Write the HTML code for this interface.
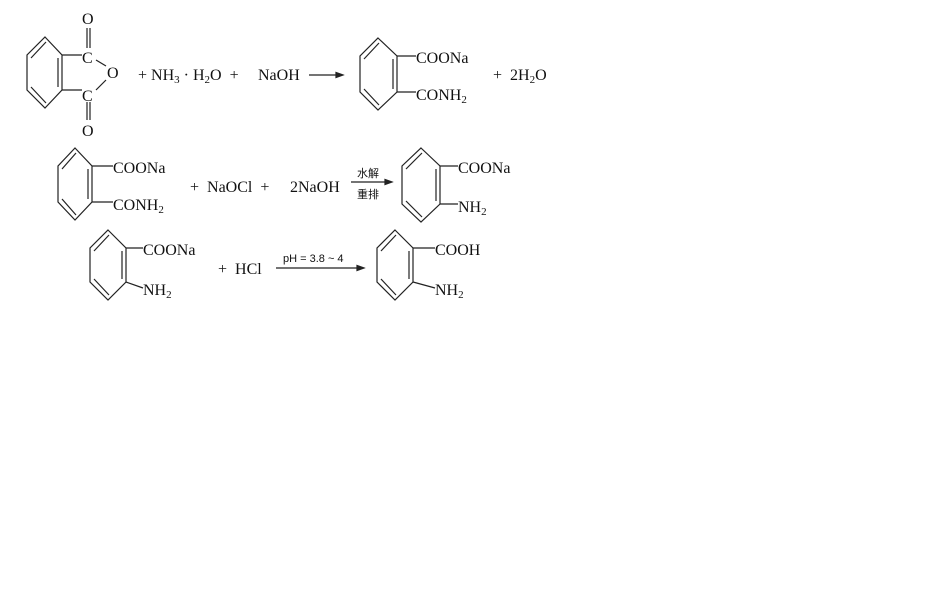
<!DOCTYPE html>
<html><head><meta charset="utf-8"><style>
html,body{margin:0;padding:0;background:#fff;width:950px;height:600px;overflow:hidden}
svg{display:block}
text{font-family:"Liberation Serif","Noto Serif CJK SC",serif;font-size:16px;fill:#111;white-space:pre}
.s{font-size:11px}
.c{font-family:"Liberation Sans","Noto Sans CJK SC",sans-serif;font-size:11px}
line,polyline,polygon{stroke:#222;stroke-width:1.2;fill:none}
</style></head><body>
<svg width="950" height="600" viewBox="0 0 950 600" xmlns="http://www.w3.org/2000/svg" xml:space="preserve">
<!-- Row 1: anhydride -->
<polygon points="45,37 62,55 62,90 45,108 27,90 27,55"/>
<line x1="31" y1="58" x2="46" y2="42"/><line x1="58" y1="58" x2="58" y2="87"/><line x1="31" y1="87" x2="46" y2="103"/>
<line x1="62" y1="55" x2="82" y2="55"/><line x1="62" y1="90" x2="82" y2="90"/>
<text x="82" y="63">C</text><text x="82" y="101">C</text>
<line x1="87" y1="28" x2="87" y2="48"/><line x1="90" y1="28" x2="90" y2="48"/>
<line x1="87" y1="102" x2="87" y2="120"/><line x1="90" y1="102" x2="90" y2="120"/>
<text x="82" y="24">O</text><text x="82" y="136">O</text>
<line x1="96" y1="60" x2="106" y2="66"/><line x1="96" y1="90" x2="106" y2="80"/>
<text x="107" y="78">O</text>
<text x="138" y="80">+ NH<tspan class="s" dy="3">3</tspan><tspan dy="-3"> · H</tspan><tspan class="s" dy="3">2</tspan><tspan dy="-3">O  +  </tspan></text>
<text x="258" y="80">NaOH</text>
<line x1="309" y1="75" x2="342" y2="75"/><polygon points="343,75 336,72.5 336,77.5" style="fill:#222"/>
<polygon points="378,38 397,56 397,92 378,110 360,92 360,56"/>
<line x1="364" y1="59" x2="379" y2="43"/><line x1="393" y1="59" x2="393" y2="89"/><line x1="364" y1="89" x2="379" y2="105"/>
<line x1="397" y1="56" x2="416" y2="56"/><line x1="397" y1="92" x2="416" y2="92"/>
<text x="416" y="63">COONa</text>
<text x="416" y="100">CONH<tspan class="s" dy="3">2</tspan></text>
<text x="493" y="80">+  2H<tspan class="s" dy="3">2</tspan><tspan dy="-3">O</tspan></text>

<!-- Row 2 -->
<polygon points="75,148 92,166 92,202 75,220 58,202 58,166"/>
<line x1="62" y1="169" x2="76" y2="153"/><line x1="88" y1="169" x2="88" y2="199"/><line x1="62" y1="199" x2="76" y2="215"/>
<line x1="92" y1="166" x2="113" y2="166"/><line x1="92" y1="202" x2="113" y2="202"/>
<text x="113" y="173">COONa</text>
<text x="113" y="210">CONH<tspan class="s" dy="3">2</tspan></text>
<text x="190" y="192">+  NaOCl  +  </text>
<text x="290" y="192">2NaOH</text>
<line x1="351" y1="182" x2="390" y2="182"/><polygon points="392,182 385,179.5 385,184.5" style="fill:#222"/>
<text class="c" x="357" y="177">水解</text><text class="c" x="357" y="198">重排</text>
<polygon points="421,148 440,166 440,204 421,222 402,204 402,166"/>
<line x1="406" y1="169" x2="422" y2="153"/><line x1="436" y1="169" x2="436" y2="201"/><line x1="406" y1="201" x2="422" y2="217"/>
<line x1="440" y1="166" x2="458" y2="166"/><line x1="440" y1="204" x2="458" y2="204"/>
<text x="458" y="173">COONa</text>
<text x="458" y="212">NH<tspan class="s" dy="3">2</tspan></text>

<!-- Row 3 -->
<polygon points="108,230 126,248 126,282 108,300 90,282 90,248"/>
<line x1="94" y1="251" x2="109" y2="235"/><line x1="122" y1="251" x2="122" y2="279"/><line x1="94" y1="279" x2="109" y2="295"/>
<line x1="126" y1="248" x2="143" y2="248"/><line x1="126" y1="282" x2="143" y2="288"/>
<text x="143" y="255">COONa</text>
<text x="143" y="295">NH<tspan class="s" dy="3">2</tspan></text>
<text x="218" y="274">+  HCl</text>
<line x1="276" y1="268" x2="362" y2="268"/><polygon points="364,268 357,265.5 357,270.5" style="fill:#222"/>
<text class="c" x="283" y="262">pH = 3.8 ~ 4</text>
<polygon points="395,230 413,248 413,282 395,300 377,282 377,248"/>
<line x1="381" y1="251" x2="396" y2="235"/><line x1="409" y1="251" x2="409" y2="279"/><line x1="381" y1="279" x2="396" y2="295"/>
<line x1="413" y1="248" x2="435" y2="248"/><line x1="413" y1="282" x2="435" y2="288"/>
<text x="435" y="255">COOH</text>
<text x="435" y="295">NH<tspan class="s" dy="3">2</tspan></text>
</svg>
</body></html>
